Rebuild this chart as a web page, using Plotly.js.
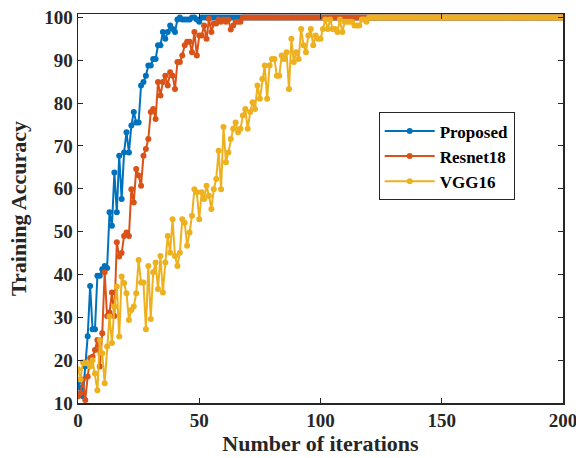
<!DOCTYPE html>
<html>
<head>
<meta charset="utf-8">
<script src="https://cdn.plot.ly/plotly-3.0.1.min.js"></script>
<style>html,body{margin:0;padding:0;background:#fff;}#chart{width:576px;height:458px;}</style>
</head>
<body>
<div id="chart"></div>
<script>
const seriesNames = ["Proposed", "Resnet18", "VGG16"];
const seriesColors = ["#0072BD", "#D95319", "#EDB120"];
const xTicks = [0, 50, 100, 150, 200];
const yTicks = [10, 20, 30, 40, 50, 60, 70, 80, 90, 100];

const proposed = [
14.7,13.5,11.6,18.6,25.6,37.3,27.2,27.2,39.7,39.7,
41.2,42.0,41.5,54.5,51.4,63.8,54.5,67.7,57.6,68.5,
73.2,68.5,74.8,77.9,75.5,75.5,84.1,84.9,86.4,88.8,
88.8,90.3,90.3,93.5,93.5,96.6,95.0,96.6,98.1,97.3,
96.6,99.5,100,99.5,99.5,99.5,99.5,100,100,99.5,
99.0,100,
100,100,100,100,100,100,100,100,100,100,
100,100,100,100,100,100,100,100,100,100,
100,100,100,100,100,100,100,100,100,100,
100,100,100,100,100,100,100,100,100,100,
100,100,100,100,100,100,100,100,100,100,
100,100,100,100,100,100,100,100,100,100,
100,100,100,100,100,100,100,100,100,100,
100,100,100,100,100,100,100,100,100,100,
100,100,100,100,100,100,100,100,100,100,
100,100,100,100,100,100,100,100,100,100,
100,100,100,100,100,100,100,100,100,100,
100,100,100,100,100,100,100,100,100,100,
100,100,100,100,100,100,100,100,100,100,
100,100,100,100,100,100,100,100,100,100,
100,100,100,100,100,100,100,100,100
];

const resnet18 = [
11.6,12.3,15.5,10.7,16.2,20.5,20.8,22.4,24.7,18.5,
26.3,40.5,30.3,31.1,35.8,30.3,47.5,44.2,45.0,49.0,
49.8,49.0,59.9,56.8,64.6,63.1,60.7,67.7,69.3,71.6,
77.9,78.6,76.3,84.9,81.8,84.9,86.4,84.1,87.2,86.4,
83.3,89.6,89.6,91.1,93.5,94.3,94.3,91.9,96.6,91.1,
95.8,95.8,98.1,95.0,99.7,96.6,98.6,98.6,99.5,99.0,
99.5,99.0,99.5,97.2,98.1,99.0,99.0,99.0,
100,100,100,100,100,100,100,100,100,100,
100,100,100,100,100,100,100,100,100,100,
100,100,100,100,100,100,100,100,100,100,
100,100,100,100,100,100,100,100,100,100,
100,100,100,100,100,100,100,100,100,100,
100,100,100,100,100,100,100,100,100,100,
100,100,100,100,100,100,100,100,100,100,
100,100,100,100,100,100,100,100,100,100,
100,100,100,100,100,100,100,100,100,100,
100,100,100,100,100,100,100,100,100,100,
100,100,100,100,100,100,100,100,100,100,
100,100,100,100,100,100,100,100,100,100,
100,100,100,100,100,100,100,100,100,100,
100,100,100
];

const vgg16 = [
17.9,15.5,19.5,19.3,19.3,18.5,20.0,16.9,13.0,24.7,
21.6,14.6,23.2,30.2,24.0,32.5,37.2,25.5,39.5,38.0,
35.6,29.4,31.7,32.5,35.6,43.4,38.1,38.1,27.2,42.0,
29.6,40.5,42.8,36.6,44.3,35.8,42.8,49.0,45.1,52.9,
44.3,42.0,45.1,52.9,52.1,46.7,49.8,53.7,59.9,59.2,
52.9,59.2,57.6,60.7,58.4,55.3,59.9,62.3,68.9,59.9,
74.4,66.2,68.5,71.6,74.0,75.5,73.2,74.0,77.1,78.6,
74.0,77.9,80.2,78.6,84.1,81.0,85.6,88.8,81.0,88.8,
90.3,90.3,86.4,86.4,91.1,90.3,91.9,83.3,95.0,89.6,
91.9,90.3,97.3,93.5,91.9,95.8,97.3,93.5,95.8,95.0,
95.0,97.3,99.5,97.3,99.5,97.3,97.3,96.6,99.5,96.6,
99.0,99.0,99.0,99.0,98.1,98.1,98.1,99.5,99.5,99.0,
100,
100,100,100,100,100,100,100,100,100,100,
100,100,100,100,100,100,100,100,100,100,
100,100,100,100,100,100,100,100,100,100,
100,100,100,100,100,100,100,100,100,100,
100,100,100,100,100,100,100,100,100,100,
100,100,100,100,100,100,100,100,100,100,
100,100,100,100,100,100,100,100,100,100,
100,100,100,100,100,100,100,100,100,100
];

const allSeries = [proposed, resnet18, vgg16];
const FONT = "'Liberation Serif', 'Times New Roman', serif";

const traces = allSeries.map((vals, k) => ({
  type: "scatter",
  mode: "lines+markers",
  name: seriesNames[k],
  x: vals.map((_, i) => i),
  y: vals,
  line: {color: seriesColors[k], width: 2},
  marker: {color: seriesColors[k], size: 6, symbol: "circle"}
}));

const axisCommon = {
  showgrid: false,
  zeroline: false,
  showline: true,
  linecolor: "#262626",
  linewidth: 1.5,
  mirror: "ticks",
  ticks: "inside",
  ticklen: 5,
  tickwidth: 1,
  tickcolor: "#262626",
  ticklabeloverflow: "allow",
  tickfont: {family: FONT, size: 19, color: "#262626", weight: "bold"}
};

const layout = {
  width: 576,
  height: 458,
  margin: {l: 78, r: 13, t: 14, b: 55},
  paper_bgcolor: "#ffffff",
  plot_bgcolor: "#ffffff",
  showlegend: true,
  xaxis: Object.assign({}, axisCommon, {
    range: [0, 200],
    tickvals: xTicks,
    ticktext: xTicks.map(String),
    title: {text: "Number of iterations", font: {family: FONT, size: 22, color: "#262626", weight: "bold"}, standoff: 2}
  }),
  yaxis: Object.assign({}, axisCommon, {
    range: [10, 100.8],
    tickvals: yTicks,
    ticktext: yTicks.map(String),
    title: {text: "Training Accuracy", font: {family: FONT, size: 22, color: "#262626", weight: "bold"}, standoff: 11}
  }),
  legend: {
    x: 0.620, y: 0.747, xanchor: "left", yanchor: "top",
    bgcolor: "#ffffff",
    bordercolor: "#262626",
    borderwidth: 1,
    font: {family: FONT, size: 17, color: "#000000", weight: "bold"},
    itemwidth: 50,
    tracegroupgap: 0
  }
};

Plotly.newPlot("chart", traces, layout, {displayModeBar: false, staticPlot: true});
</script>
</body>
</html>
